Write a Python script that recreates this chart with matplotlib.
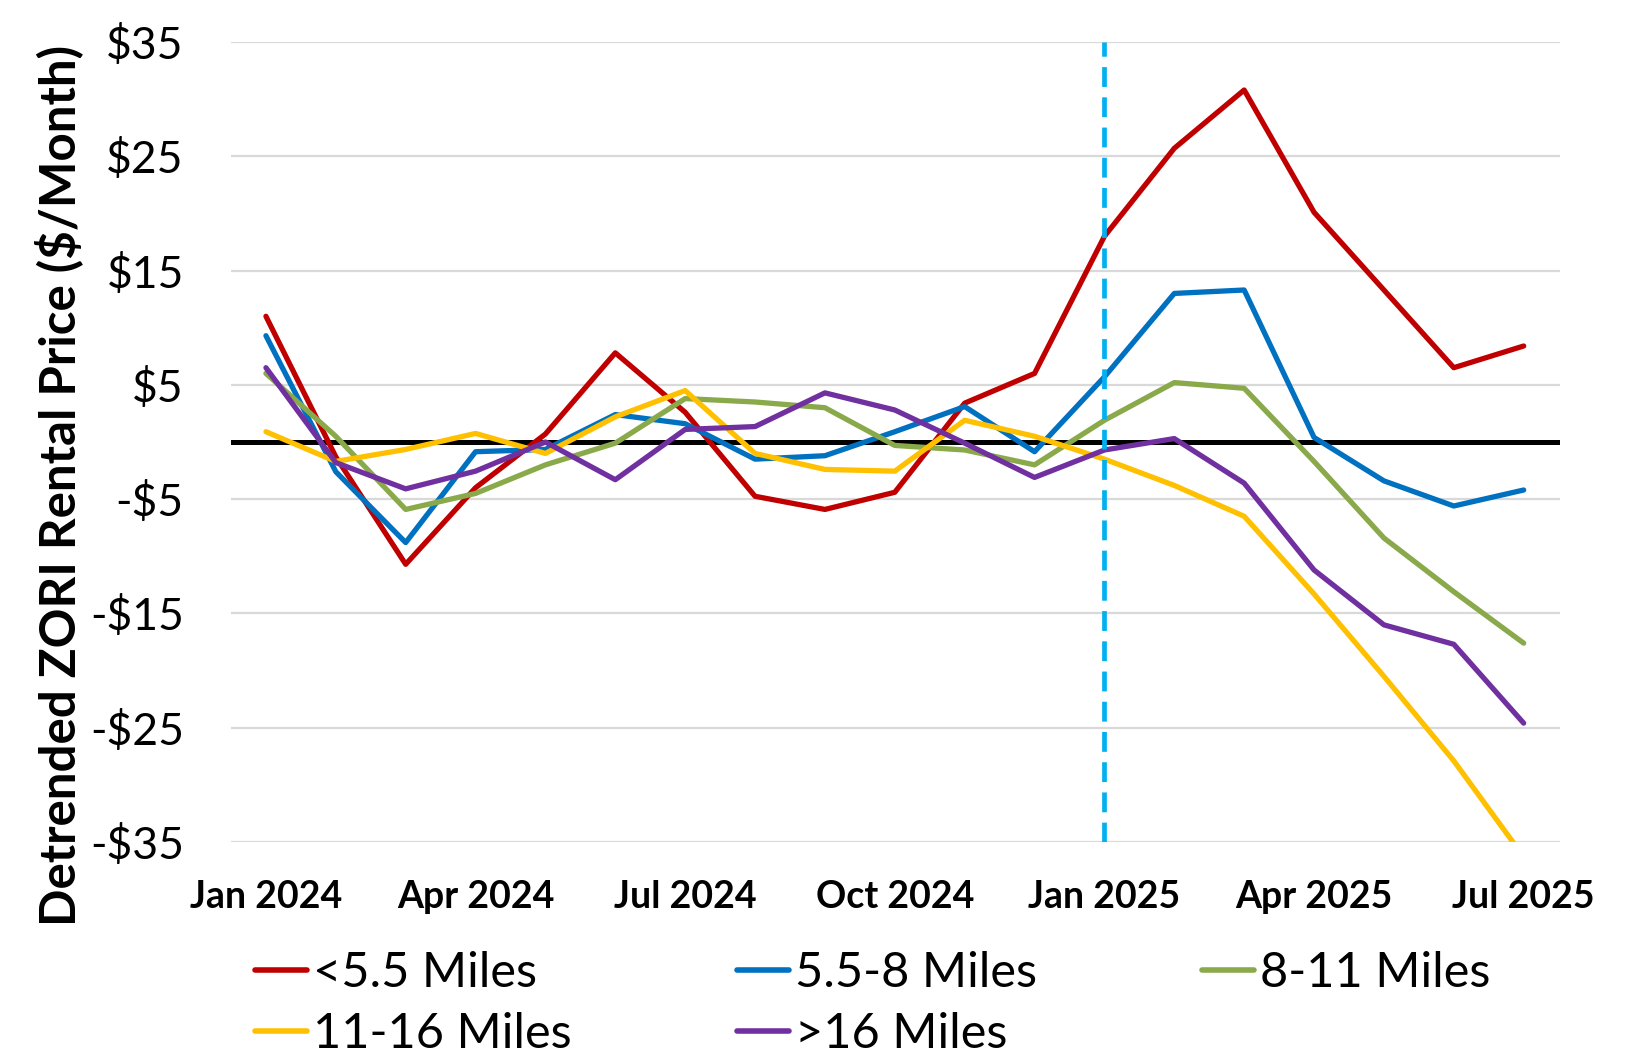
import numpy as np
import matplotlib.pyplot as plt

plt.rcParams['font.family'] = ['Lato', 'DejaVu Sans']

months = ["Jan 2024", "Feb 2024", "Mar 2024", "Apr 2024", "May 2024", "Jun 2024",
          "Jul 2024", "Aug 2024", "Sep 2024", "Oct 2024", "Nov 2024", "Dec 2024",
          "Jan 2025", "Feb 2025", "Mar 2025", "Apr 2025", "May 2025", "Jun 2025",
          "Jul 2025"]
under_5_5 = [11.0, -1.3, -10.7, -4.0, 0.7, 7.8, 2.6, -4.75, -5.9, -4.4, 3.4, 6.0,
             18.0, 25.7, 30.8, 20.1, 13.3, 6.5, 8.4]
from_5_5_to_8 = [9.3, -2.6, -8.8, -0.85, -0.65, 2.4, 1.6, -1.5, -1.2, 0.9, 3.1, -0.85,
                 5.7, 13.0, 13.3, 0.4, -3.4, -5.6, -4.2]
from_8_to_11 = [6.0, 0.5, -5.9, -4.5, -2.0, -0.1, 3.8, 3.5, 3.0, -0.3, -0.7, -2.0,
                1.9, 5.2, 4.7, -1.7, -8.4, -13.1, -17.6]
from_11_to_16 = [0.9, -1.7, -0.65, 0.75, -1.0, 2.2, 4.5, -1.0, -2.4, -2.55, 1.9, 0.5,
                 -1.5, -3.8, -6.5, -13.3, -20.5, -27.9, -36.3]
over_16 = [6.5, -1.8, -4.1, -2.55, 0.0, -3.3, 1.1, 1.35, 4.3, 2.8, -0.1, -3.1,
           -0.7, 0.3, -3.6, -11.2, -16.0, -17.7, -24.6]

series_names = ["<5.5 Miles", "5.5-8 Miles", "8-11 Miles", "11-16 Miles", ">16 Miles"]
series_values = [under_5_5, from_5_5_to_8, from_8_to_11, from_11_to_16, over_16]
colors = ["#C00000", "#0070C0", "#89A94B", "#FFC000", "#7030A0"]

y_ticks = [35, 25, 15, 5, -5, -15, -25, -35]
x_tick_months = ["Jan 2024", "Apr 2024", "Jul 2024", "Oct 2024", "Jan 2025", "Apr 2025", "Jul 2025"]
event_month = "Jan 2025"

figure = plt.figure(figsize=(16.3, 10.53), dpi=100)
axes = figure.add_axes([231 / 1630, 211 / 1053, 1329 / 1630, 800 / 1053])

x = np.arange(len(months))
lines = []
for name, values, color in zip(series_names, series_values, colors):
    line, = axes.plot(x, values, color=color, lw=3.8, label=name, zorder=3,
                      solid_capstyle="round", solid_joinstyle="round")
    lines.append(line)

axes.axhline(0, color="black", lw=3.6, zorder=2)
axes.axvline(months.index(event_month), color="#00B0F0", lw=3.4, ls=(0, (4.2, 2.2)), zorder=4)

axes.set_xlim(-0.5, len(months) - 0.48)
axes.set_ylim(-35, 35)
axes.set_yticks(y_ticks)
axes.set_yticklabels([f"${v}" if v > 0 else f"-${-v}" for v in y_ticks], fontsize=32)
axes.set_xticks([months.index(m) for m in x_tick_months])
axes.set_xticklabels(x_tick_months, fontsize=27, fontweight="bold")
axes.tick_params(axis="y", length=0, pad=34)
axes.tick_params(axis="x", length=0, pad=27)
axes.grid(axis="y", color="#D9D9D9", lw=1.6, zorder=0)
for spine in axes.spines.values():
    spine.set_visible(False)

figure.text(59 / 1630, 1 - 485 / 1053, "Detrended ZORI Rental Price ($/Month)",
            rotation=90, ha="center", va="center", fontsize=35.5, fontweight="bold")

# legend fills column by column, so reorder to read row by row (3 per row)
order = [0, 3, 1, 4, 2]
legend = figure.legend([lines[i] for i in order], [series_names[i] for i in order],
                       loc="upper left", bbox_to_anchor=(255 / 1630, 1 - 951 / 1053), ncol=3,
                       frameon=False, fontsize=35, handlelength=1.07, handletextpad=0.12,
                       columnspacing=3.4, labelspacing=0.34, borderaxespad=0, borderpad=0)
for line in legend.get_lines():
    line.set_linewidth(4)
    line.set_solid_capstyle("round")

figure.savefig("out.png", dpi=100)
